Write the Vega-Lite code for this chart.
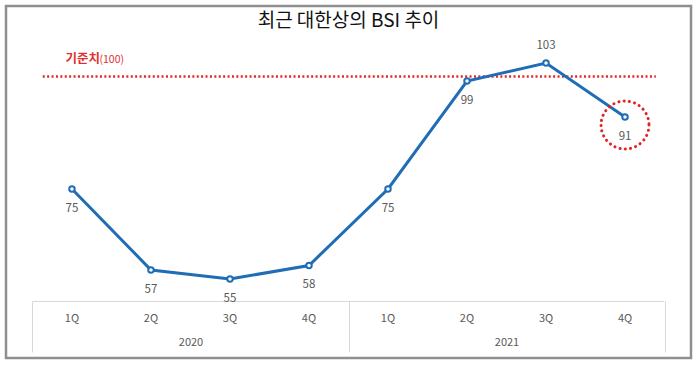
{
  "$schema": "https://vega.github.io/schema/vega-lite/v6.json",
  "width": 685,
  "height": 352,
  "autosize": {"type": "none"},
  "padding": {"left": 6, "top": 6, "right": 9, "bottom": 11},
  "background": "white",
  "config": {
    "view": {"stroke": "#8f8f8f", "strokeWidth": 2.5},
    "font": "Noto Sans CJK KR"
  },
  "title": {
    "text": "최근 대한상의 BSI 추이",
    "fontSize": 19,
    "fontWeight": "normal",
    "color": "#111111",
    "anchor": "middle",
    "baseline": "middle",
    "offset": -34,
    "font": "Noto Sans CJK KR"
  },
  "datasets": {
    "bsi": [
      {"q": "2020-1Q", "v": 75},
      {"q": "2020-2Q", "v": 57},
      {"q": "2020-3Q", "v": 55},
      {"q": "2020-4Q", "v": 58},
      {"q": "2021-1Q", "v": 75},
      {"q": "2021-2Q", "v": 99},
      {"q": "2021-3Q", "v": 103},
      {"q": "2021-4Q", "v": 91}
    ],
    "ref": [{"from": "2020-1Q", "to": "2021-4Q", "v": 100, "label": "기준치", "sub": "(100)"}],
    "base": [{"from": "2020-1Q", "to": "2021-4Q", "v": 50}]
  },
  "resolve": {"axis": {"x": "independent"}},
  "layer": [
    {
      "data": {"name": "base"},
      "mark": {"type": "rule", "color": "#d9d9d9", "strokeWidth": 1},
      "encoding": {
        "x": {"field": "from", "type": "ordinal", "bandPosition": 0, "axis": null,
              "scale": {"type": "band", "domain": ["2020-1Q","2020-2Q","2020-3Q","2020-4Q","2021-1Q","2021-2Q","2021-3Q","2021-4Q"], "paddingInner": 0, "paddingOuter": 0.335}},
        "x2": {"field": "to", "bandPosition": 1},
        "y": {"field": "v", "type": "quantitative", "axis": null,
              "scale": {"domain": [37.44, 115.67], "nice": false, "zero": false}}
      }
    },
    {
      "data": {"name": "ref"},
      "mark": {"type": "rule", "color": "#e32626", "strokeWidth": 2.5, "strokeDash": [2, 2.4]},
      "encoding": {
        "x": {"field": "from", "type": "ordinal", "bandPosition": 0.13, "axis": null},
        "x2": {"field": "to", "bandPosition": 0.89},
        "y": {"field": "v", "type": "quantitative", "axis": null}
      }
    },
    {
      "data": {"name": "ref"},
      "mark": {"type": "text", "color": "#e03030", "fontSize": 12.5, "fontWeight": "bold", "align": "left", "baseline": "middle", "dx": 33, "dy": -18},
      "encoding": {
        "x": {"field": "from", "type": "ordinal", "bandPosition": 0, "axis": null},
        "y": {"field": "v", "type": "quantitative", "axis": null},
        "text": {"field": "label"}
      }
    },
    {
      "data": {"name": "ref"},
      "mark": {"type": "text", "color": "#e03030", "fontSize": 10.5, "align": "left", "baseline": "middle", "dx": 67, "dy": -17},
      "encoding": {
        "x": {"field": "from", "type": "ordinal", "bandPosition": 0, "axis": null},
        "y": {"field": "v", "type": "quantitative", "axis": null},
        "text": {"field": "sub"}
      }
    },
    {
      "data": {"name": "bsi"},
      "mark": {"type": "line", "color": "#1f6db5", "strokeWidth": 3},
      "encoding": {
        "x": {"field": "q", "type": "ordinal", "sort": null,
              "axis": {"title": null, "orient": "bottom", "offset": -57, "domain": false, "ticks": false, "grid": false,
                       "labelExpr": "split(datum.value, '-')[1]", "labelAngle": 0, "labelFontSize": 11,
                       "labelColor": "#595959", "labelPadding": 11, "labelFont": "Noto Sans CJK KR"}},
        "y": {"field": "v", "type": "quantitative", "axis": null}
      }
    },
    {
      "data": {"name": "bsi"},
      "mark": {"type": "point", "filled": true, "fill": "white", "stroke": "#1f6db5", "strokeWidth": 2, "size": 30, "opacity": 1},
      "encoding": {
        "x": {"field": "q", "type": "ordinal", "sort": null,
              "axis": {"title": null, "orient": "bottom", "offset": -57, "domain": false, "grid": false,
                       "ticks": true, "tickBand": "extent", "tickSize": 51, "tickWidth": 1,
                       "tickColor": {"condition": {"test": "datum.index < 0 || datum.value == '2020-4Q' || datum.value == '2021-4Q'", "value": "#d9d9d9"}, "value": "transparent"},
                       "labelExpr": "datum.value == '2020-2Q' ? '2020' : datum.value == '2021-2Q' ? '2021' : ''",
                       "labelOffset": 39.5, "labelAngle": 0, "labelFontSize": 11, "labelColor": "#595959",
                       "labelPadding": -16, "labelFont": "Noto Sans CJK KR"}},
        "y": {"field": "v", "type": "quantitative", "axis": null}
      }
    },
    {
      "data": {"name": "bsi"},
      "transform": [{"filter": "datum.v <= 100"}],
      "mark": {"type": "text", "color": "#595959", "fontSize": 11.5, "baseline": "middle", "dy": 20},
      "encoding": {
        "x": {"field": "q", "type": "ordinal", "axis": null},
        "y": {"field": "v", "type": "quantitative", "axis": null},
        "text": {"field": "v"}
      }
    },
    {
      "data": {"name": "bsi"},
      "transform": [{"filter": "datum.v > 100"}],
      "mark": {"type": "text", "color": "#595959", "fontSize": 11.5, "baseline": "middle", "dy": -17},
      "encoding": {
        "x": {"field": "q", "type": "ordinal", "axis": null},
        "y": {"field": "v", "type": "quantitative", "axis": null},
        "text": {"field": "v"}
      }
    },
    {
      "data": {"name": "bsi"},
      "transform": [{"filter": "datum.q == '2021-4Q'"}],
      "mark": {"type": "point", "shape": "circle", "filled": false, "stroke": "#e02424", "strokeWidth": 3, "size": 2300, "strokeDash": [0.1, 5.2], "strokeCap": "round", "yOffset": 8, "opacity": 1},
      "encoding": {
        "x": {"field": "q", "type": "ordinal", "axis": null},
        "y": {"field": "v", "type": "quantitative", "axis": null}
      }
    }
  ]
}
